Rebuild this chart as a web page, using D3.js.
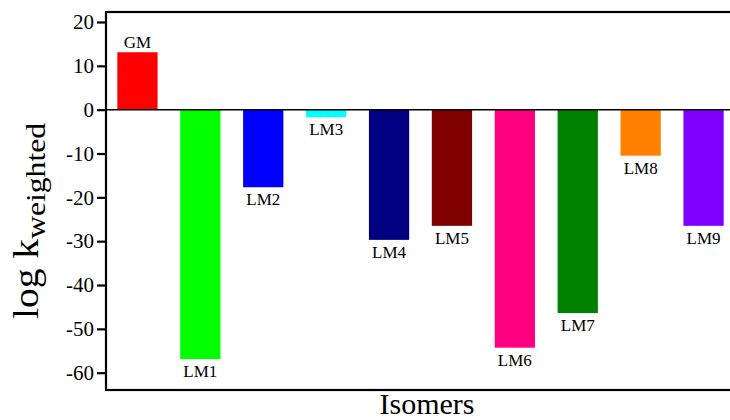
<!DOCTYPE html>
<html>
<head>
<meta charset="utf-8">
<script src="https://cdn.jsdelivr.net/npm/d3@7"></script>
<style>
  body { margin: 0; background: #fff; }
  svg { display: block; font-family: "Liberation Serif", "Times New Roman", serif; }
</style>
</head>
<body>
<svg></svg>
<script>
const isomers = ['GM', 'LM1', 'LM2', 'LM3', 'LM4', 'LM5', 'LM6', 'LM7', 'LM8', 'LM9']
const logK = [13.1, -56.9, -17.7, -1.7, -29.7, -26.5, -54.3, -46.4, -10.5, -26.5]
const barColors = ['#ff0000', '#00ff00', '#0000ff', '#00ffff', '#000080', '#800000', '#ff0080', '#008000', '#ff8000', '#8000ff']
const yTicks = [20, 10, 0, -10, -20, -30, -40, -50, -60]

const width = 730
const height = 420
const margin = { top: 12, left: 106, right: -5, bottom: 30 }

const dataset = isomers.map((name, i) => ({ name, value: logK[i], color: barColors[i] }))

const svg = d3.select('svg')
    .attr('width', width)
    .attr('height', height)

const xScale = d3.scaleBand()
    .domain(isomers)
    .range([margin.left, width - margin.right])
    .paddingInner(0.36)
    .paddingOuter(0.18)

const yScale = d3.scaleLinear()
    .domain([-63.95, 22.28])
    .range([height - margin.bottom, margin.top])

// bars
svg.selectAll('.bar')
    .data(dataset)
    .enter()
    .append('rect')
    .attr('class', 'bar')
    .attr('x', d => xScale(d.name))
    .attr('width', xScale.bandwidth())
    .attr('y', d => yScale(Math.max(0, d.value)))
    .attr('height', d => Math.abs(yScale(d.value) - yScale(0)))
    .attr('fill', d => d.color)

// bar labels
svg.selectAll('.bar-label')
    .data(dataset)
    .enter()
    .append('text')
    .attr('class', 'bar-label')
    .attr('x', d => xScale(d.name) + xScale.bandwidth() / 2)
    .attr('y', d => d.value >= 0 ? yScale(d.value) - 4 : yScale(d.value) + 18)
    .attr('text-anchor', 'middle')
    .style('font-size', '17px')
    .text(d => d.name)

// zero line
svg.append('line')
    .attr('x1', margin.left)
    .attr('x2', width - margin.right)
    .attr('y1', yScale(0))
    .attr('y2', yScale(0))
    .attr('stroke', '#000')
    .attr('stroke-width', 1.5)

// frame
svg.append('rect')
    .attr('x', margin.left)
    .attr('y', margin.top)
    .attr('width', width - margin.right - margin.left)
    .attr('height', height - margin.bottom - margin.top)
    .attr('fill', 'none')
    .attr('stroke', '#000')
    .attr('stroke-width', 2.2)

// y axis (plain hyphen for negatives, like the original)
const yAxis = d3.axisLeft(yScale)
    .tickValues(yTicks)
    .tickSize(9)
    .tickPadding(3)
    .tickFormat(d => String(d))

const yAxisG = svg.append('g')
    .attr('transform', `translate(${margin.left}, 0)`)
    .call(yAxis)
yAxisG.select('.domain').remove()
yAxisG.selectAll('line').attr('stroke-width', 2.2)
yAxisG.selectAll('text')
    .style('font-family', '"Liberation Serif", "Times New Roman", serif')
    .style('font-size', '21px')
    .attr('fill', '#000')

// axis titles
const yTitle = svg.append('text')
    .attr('transform', 'translate(38, 221) rotate(-90) scale(1.13, 1)')
    .attr('text-anchor', 'middle')
    .style('font-size', '35px')
yTitle.append('tspan').text('log k')
yTitle.append('tspan')
    .attr('dy', 7)
    .style('font-size', '28px')
    .text('weighted')

svg.append('text')
    .attr('x', 427)
    .attr('y', 414)
    .attr('text-anchor', 'middle')
    .style('font-size', '30px')
    .text('Isomers')
</script>
</body>
</html>
